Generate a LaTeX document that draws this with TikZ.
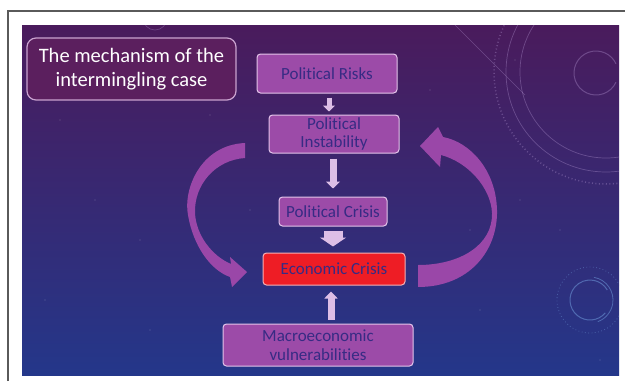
\documentclass[tikz,border=0pt]{standalone}
\usepackage{fontspec}
\setmainfont{Carlito}[Ligatures=NoCommon]
\usetikzlibrary{arrows.meta}

\definecolor{slidetop}{HTML}{4A1B5C}
\definecolor{slidemid}{HTML}{352470}
\definecolor{slidebot}{HTML}{24378A}
\definecolor{boxfill}{HTML}{9C4BA8}
\definecolor{boxline}{HTML}{E3C4EA}
\definecolor{boxtext}{HTML}{372B84}
\definecolor{redfill}{HTML}{EE1D25}
\definecolor{redline}{HTML}{F6B0B4}
\definecolor{titlefill}{HTML}{5B1F5E}
\definecolor{titleline}{HTML}{C9A2CF}
\definecolor{curvefill}{HTML}{9A47A8}
\definecolor{blockpink}{HTML}{DDBEE6}
\definecolor{framegray}{HTML}{5A5A5A}
\definecolor{ringline}{HTML}{B99CD8}
\definecolor{ringblue}{HTML}{6E98D8}

\tikzset{
  titlebox/.style={draw=titleline, fill=titlefill, line width=1.2pt,
    rounded corners=9pt, inner sep=0pt, align=center, text=white,
    font=\fontsize{20.5}{24}\selectfont},
  stepbox/.style={draw=boxline, fill=boxfill, line width=1pt,
    rounded corners=3.5pt, inner sep=0pt, align=center, text=boxtext,
    font=\fontsize{17}{18.5}\selectfont},
  redbox/.style={stepbox, draw=redline, fill=redfill},
  blockarrow/.style={draw=blockpink, line width=#1},
}

\begin{document}
\begin{tikzpicture}[x=1pt,y=-1pt]
\useasboundingbox (0,0) rectangle (625,381);
\fill[white] (0,0) rectangle (625,381);

% slide background
\shade[top color=slidetop, middle color=slidemid, bottom color=slidebot]
  (22,25) rectangle (619,375);

\begin{scope}
  \clip (22,25) rectangle (619,375);
  % faint rings, top right
  \begin{scope}[ringline, line width=0.7pt, opacity=0.35]
    \draw (606,72) circle (100);
    \draw (606,72) circle (86);
    \draw[dash pattern=on 1pt off 2.5pt, line width=1.5pt, opacity=0.35] (606,72) circle (112);
    \draw[line width=1pt] (596,73) ++(25:22) arc (25:335:22);
    \draw (455,25) -- (525,95);
  \end{scope}
  % faint rings, bottom right
  \begin{scope}[ringblue, opacity=0.55]
    \draw[line width=1pt] (590,300) ++(40:20) arc (40:330:20);
    \draw[line width=0.8pt] (590,300) ++(-80:23) arc (-80:70:23);
    \draw[dash pattern=on 0.8pt off 2.5pt, line width=0.8pt, opacity=0.45] (590,300) circle (33);
  \end{scope}
  % small arc at the top edge
  \draw[ringline, opacity=0.3, line width=0.7pt] (155,18) circle (12);
  % scattered stars
  \foreach \p in {(60,120),(95,200),(140,240),(45,300),(250,210),(430,90),
                  (470,230),(520,200),(560,230),(380,330),(150,330),(480,310),
                  (210,115),(515,60),(600,360),(60,60)}
    \fill[white, opacity=0.25] \p circle (0.7);
\end{scope}

% outer frame lines
\draw[framegray, line width=1.5pt] (8,381) -- (8,11) -- (625,11);

% title
\node[titlebox, minimum width=209pt, minimum height=62pt] (title) at (131.5,69)
  {The mechanism of the\\intermingling case};

% chain of boxes
\node[stepbox, minimum width=140pt, minimum height=39pt] (risks)  at (327,73.5) {Political Risks};
\node[stepbox, minimum width=130pt, minimum height=38pt] (instab) at (334,134) {Political\\Instability};
\node[stepbox, minimum width=108pt, minimum height=29pt] (pcrisis) at (333,211.5) {Political Crisis};
\node[redbox,  minimum width=142pt, minimum height=32pt] (ecrisis) at (334,269) {Economic Crisis};
\node[stepbox, minimum width=190pt, minimum height=42pt] (macro)  at (318,345) {Macroeconomic\\vulnerabilities};

% straight block arrows
\draw[blockarrow=5pt, -{Triangle[width=12pt,length=6pt]}, shorten <=4pt, shorten >=3pt]
  ([xshift=2pt]risks.south) -- ([xshift=2pt]risks.south |- instab.north);
\draw[blockarrow=7pt, -{Triangle[width=14pt,length=7pt]}, shorten <=5pt, shorten >=8pt]
  ([xshift=-1pt]instab.south) -- ([xshift=-1pt]instab.south |- pcrisis.north);
\draw[blockarrow=19pt, -{Triangle[width=26pt,length=9pt]}, shorten <=4pt, shorten >=6pt]
  (pcrisis.south) -- (pcrisis.south |- ecrisis.north);
\draw[blockarrow=7pt, -{Triangle[width=13pt,length=7pt]}, shorten <=4pt, shorten >=6pt]
  ([xshift=13pt]macro.north) -- ([xshift=13pt]macro.north |- ecrisis.south);

% curved arrow on the left: instability feeds the economic crisis
\coordinate (ltailA) at (245,143);
\coordinate (ltailB) at (245,158);
\fill[curvefill] (ltailA)
  .. controls (200,145) and (183,190) .. (188,215)
  .. controls (193,245) and (210,270) .. (230,277)
  -- (232,287) -- (247,272) -- (230,257) -- (231,264)
  .. controls (212,256) and (196,235) .. (195,213)
  .. controls (194,185) and (215,160) .. (ltailB) -- cycle;

% curved arrow on the right: the economic crisis feeds back into instability
\coordinate (rtailA) at (418,287);
\coordinate (rtailB) at (418,265);
\fill[curvefill] (rtailA)
  .. controls (470,287) and (498,250) .. (497,210)
  .. controls (496,170) and (470,142) .. (443,137)
  -- (438,127) -- (420,146) -- (440,167) -- (441,155)
  .. controls (468,162) and (491,188) .. (492,213)
  .. controls (493,245) and (460,265) .. (rtailB) -- cycle;
\end{tikzpicture}
\end{document}
